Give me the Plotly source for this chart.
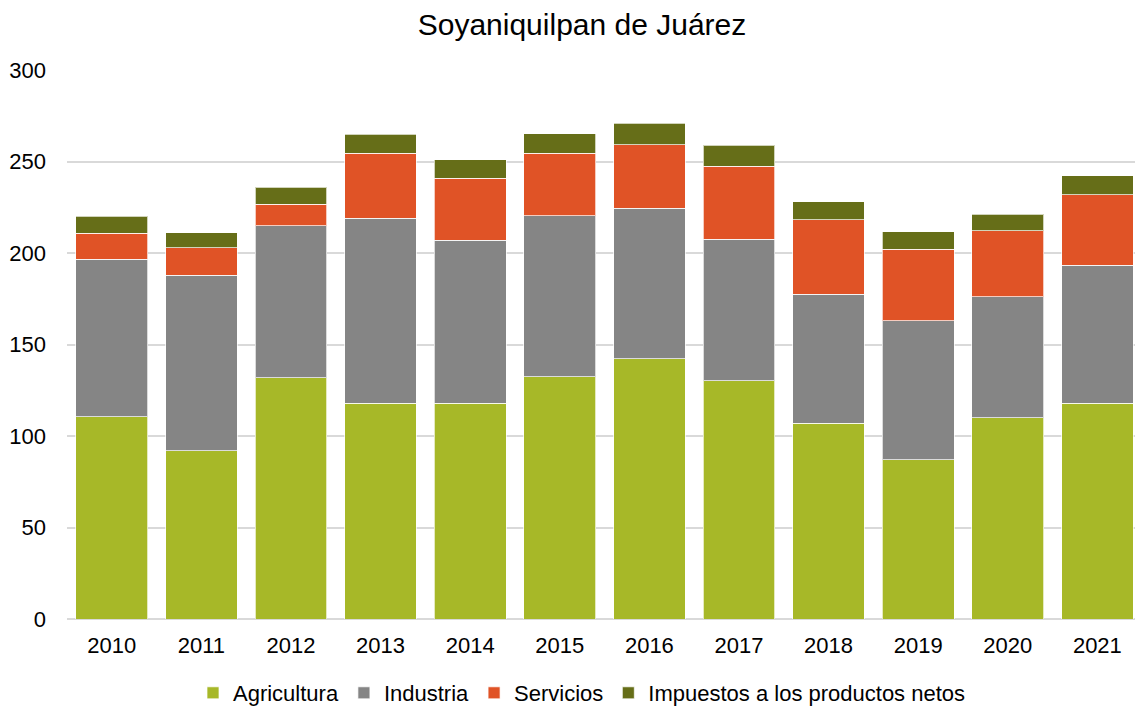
import plotly.graph_objects as go

years = ["2010", "2011", "2012", "2013", "2014", "2015", "2016", "2017", "2018", "2019", "2020", "2021"]
agricultura = [110.5, 92.0, 131.7, 118.0, 118.0, 132.4, 142.2, 130.2, 106.9, 87.1, 110.0, 118.0]
industria = [86.1, 95.9, 83.1, 101.0, 89.0, 87.9, 82.3, 77.3, 70.6, 75.8, 66.0, 75.3]
servicios = [14.2, 14.9, 11.8, 35.5, 33.8, 34.2, 34.7, 39.9, 40.6, 39.2, 36.1, 38.4]
impuestos = [9.2, 8.3, 9.3, 10.5, 10.2, 10.7, 11.7, 11.4, 10.0, 9.4, 9.2, 10.4]

series = [
    ("Agricultura", agricultura, "#A7B828"),
    ("Industria", industria, "#858585"),
    ("Servicios", servicios, "#E05326"),
    ("Impuestos a los productos netos", impuestos, "#666E18"),
]

FONT = "Liberation Sans, Arial, sans-serif"

fig = go.Figure()
for name, vals, color in series:
    fig.add_trace(go.Bar(
        x=years, y=vals, name=name,
        marker=dict(color=color, line=dict(color="rgba(255,255,255,0.7)", width=1)),
    ))

fig.update_layout(
    width=1135, height=706,
    barmode="stack", bargap=0.2,
    plot_bgcolor="white", paper_bgcolor="white",
    margin=dict(l=67, r=0, t=70, b=86.5, autoexpand=False),
    font=dict(family=FONT, size=22, color="#000000"),
    title=dict(text="Soyaniquilpan de Juárez", x=582/1135, xref="container", xanchor="center",
               y=1-24/706, yref="container", yanchor="middle",
               font=dict(family=FONT, size=30, color="#000000")),
    legend=dict(orientation="h", xref="container", x=582/1135, xanchor="center",
                yref="container", y=1-693/706, yanchor="middle",
                font=dict(family=FONT, size=22, color="#000000"),
                itemwidth=30, traceorder="normal"),
    showlegend=True,
)
fig.update_xaxes(type="category", range=[-0.5, 11.42], showgrid=False, showline=False,
                 ticks="", ticklabelstandoff=11, tickfont=dict(size=22), automargin=False)
fig.update_yaxes(range=[0, 300], dtick=50, showgrid=True, gridcolor="#D9D9D9", gridwidth=1.5,
                 zeroline=True, zerolinecolor="#D9D9D9", zerolinewidth=1.5,
                 showline=False, ticks="", ticklabelstandoff=20, tickfont=dict(size=22),
                 automargin=False)

fig.write_html("out.html", config={"displayModeBar": False},
               post_script="document.body.style.margin='0';document.body.style.overflow='hidden';")
